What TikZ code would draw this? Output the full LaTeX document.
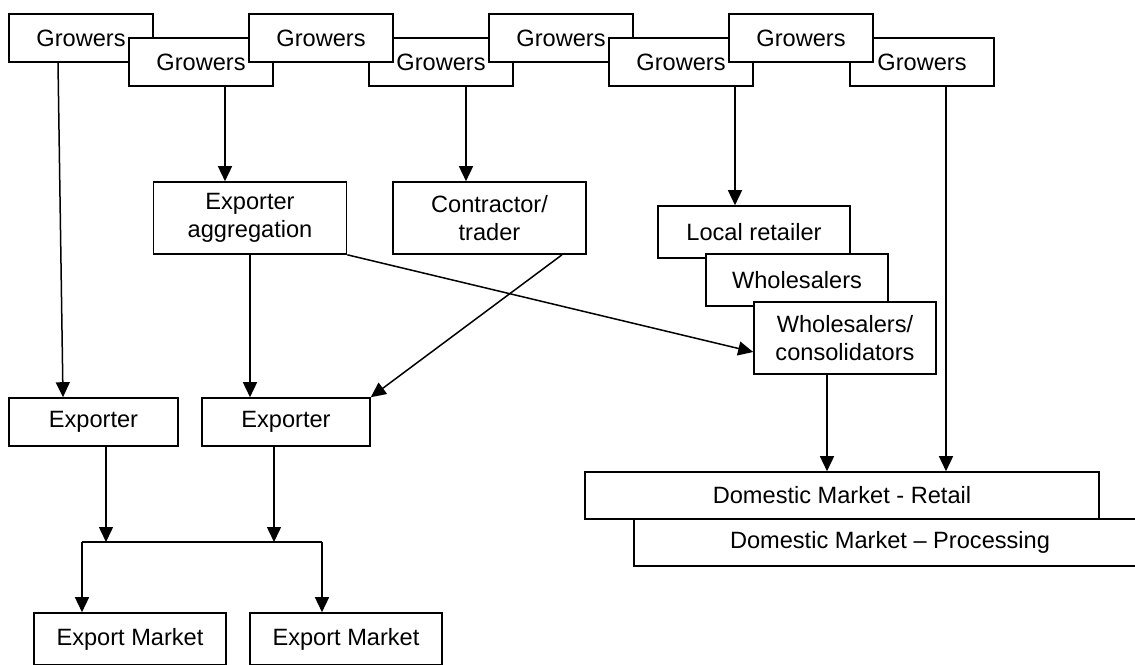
\documentclass[tikz,border=0pt]{standalone}
\usepackage{fontspec}
\setmainfont{Liberation Sans}
\usetikzlibrary{positioning, arrows.meta}

\begin{document}
\begin{tikzpicture}[x=1pt, y=-1pt,
            box/.style={draw, rectangle, fill=white, line width=1.6pt, inner sep=0pt, align=center,
                        minimum height=48pt, minimum width=144pt, font=\fontsize{23.6}{27.5}\selectfont},
            arrows={-{Triangle[width=14pt, length=15pt]}}, line width=1.5pt]
    \useasboundingbox (0,0) rectangle (1135,664);
    \clip (0,0) rectangle (1135,664);

    % Growers
    \node[box] (grow1) at (81,38) {Growers};
    \node[box] (grow2) at (201,62) {Growers};
    \node[box] (grow4) at (441,62) {Growers};
    \node[box] (grow3) at (321,38) {Growers};
    \node[box] (grow5) at (561,38) {Growers};
    \node[box] (grow6) at (681,62) {Growers};
    \node[box] (grow8) at (922,62) {Growers};
    \node[box] (grow7) at (801,38) {Growers};

    % Middle
    \node[box, minimum width=193pt, minimum height=72pt] (aggr) at (250,218) {Exporter\\aggregation};
    \node[box, minimum width=193pt, minimum height=72pt] (contr) at (489.5,218) {Contractor/\\trader};
    \node[box, minimum width=192pt, minimum height=52pt] (local) at (754,232) {Local retailer};
    \node[box, minimum width=182pt, minimum height=52pt] (whole) at (797,280) {Wholesalers};
    \node[box, minimum width=182pt, minimum height=72pt] (consol) at (845,338) {Wholesalers/\\consolidators};

    % Exporters and markets
    \node[box, minimum width=169pt] (exp1) at (93.5,422) {Exporter};
    \node[box, minimum width=168pt] (exp2) at (286,422) {Exporter};
    \node[box, minimum width=512pt, minimum height=47pt] (proc) at (890,542.5) {Domestic Market -- Processing};
    \node[box, minimum width=514pt, minimum height=47pt] (retail) at (842,495.5) {Domestic Market - Retail};
    \node[box, minimum width=192pt, minimum height=52pt] (mark1) at (130,639) {Export Market};
    \node[box, minimum width=192pt, minimum height=52pt] (mark2) at (346,639) {Export Market};

    % Edges
    \draw ([xshift=-23pt]grow1.south) -- ([xshift=-30.5pt]exp1.north);
    \draw ([xshift=24pt]grow2.south) -- ([xshift=24pt]grow2.south |- aggr.north);
    \draw ([xshift=25pt]grow4.south) -- ([xshift=25pt]grow4.south |- contr.north);
    \draw ([xshift=54pt]grow6.south) -- ([xshift=54pt]grow6.south |- local.north);
    \draw ([xshift=24pt]grow8.south) -- ([xshift=24pt]grow8.south |- retail.north);
    \draw (aggr.south) -- (aggr.south |- exp2.north);
    \draw (aggr.south east) -- ([yshift=-14pt]consol.west);
    \draw ([xshift=72.5pt]contr.south) -- (exp2.north east);
    \draw ([xshift=-18pt]consol.south) -- ([xshift=-18pt]consol.south |- retail.north);

    \coordinate (splitL) at (82,542);
    \coordinate (splitR) at (322,542);
    \draw ([xshift=12.5pt]exp1.south) -- ([xshift=12.5pt]exp1.south |- splitL);
    \draw ([xshift=-12pt]exp2.south) -- ([xshift=-12pt]exp2.south |- splitL);
    \draw[-] (splitL) -- (splitR);
    \draw (splitL) -- (splitL |- mark1.north);
    \draw (splitR) -- (splitR |- mark2.north);
\end{tikzpicture}
\end{document}
